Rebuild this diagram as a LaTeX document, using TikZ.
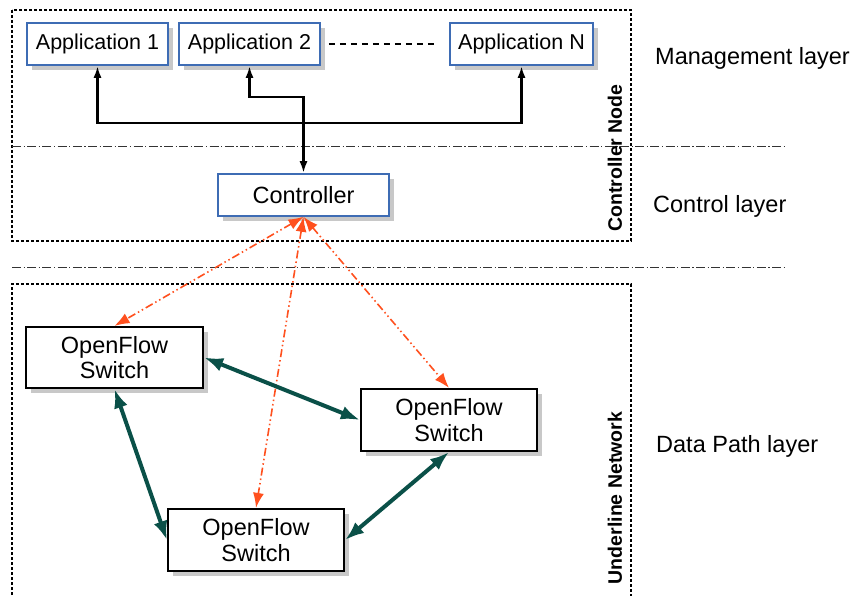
\documentclass[tikz,border=0pt]{standalone}
\usepackage{fontspec}
\setmainfont{Liberation Sans}
\usetikzlibrary{arrows.meta,shadows}
\definecolor{appblue}{RGB}{62,108,180}
\definecolor{linkgreen}{RGB}{10,80,72}
\definecolor{ctrlorange}{RGB}{255,80,30}
\definecolor{shadowgray}{RGB}{200,200,200}
\begin{document}
\begin{tikzpicture}[x=1pt,y=-1pt,
  boxshadow/.style={drop shadow={shadow xshift=5pt,shadow yshift=-5pt,fill=shadowgray,opacity=1}},
  appbox/.style={draw=appblue,line width=1.6pt,fill=white,boxshadow,
    minimum height=42pt,inner sep=0pt,font=\fontsize{21.5}{24}\selectfont},
  ctrlbox/.style={appbox,font=\fontsize{23.5}{26}\selectfont},
  switchbox/.style={draw=black,line width=2.2pt,fill=white,boxshadow,
    minimum width=176pt,minimum height=62pt,inner sep=0pt,align=center,
    font=\fontsize{23.5}{25.5}\selectfont},
  framebox/.style={line width=2pt,dash pattern=on 3pt off 2pt},
  separator/.style={line width=0.9pt,black!80,dash pattern=on 9pt off 2.5pt on 1.2pt off 2.5pt},
  apilink/.style={line width=2.8pt,{Latex[length=12pt,width=8pt]}-{Latex[length=12pt,width=8pt]}},
  ctrllink/.style={line width=1.6pt,ctrlorange,
    dash pattern=on 8pt off 3pt on 1.5pt off 3pt on 1.5pt off 3pt,
    {Latex[length=15pt,width=11pt]}-{Latex[length=15pt,width=11pt]}},
  datalink/.style={line width=4pt,linkgreen,
    {Latex[length=19pt,width=14pt]}-{Latex[length=19pt,width=14pt]}},
  layerlabel/.style={anchor=base west,inner sep=0pt,font=\fontsize{23.5}{26}\selectfont},
  sidelabel/.style={rotate=90,inner sep=0pt,font=\fontsize{19.5}{22}\selectfont\bfseries}
]
\useasboundingbox (0,0) rectangle (852,596);

% enclosing frames and layer separators
\draw[framebox] (12,10) rectangle (631,241);
\draw[framebox] (12,600) -- (12,284) -- (631,284) -- (631,600);
\draw[separator] (12,146) -- (785,146);
\draw[separator] (12,267) -- (785,267);

% management layer
\node[appbox,minimum width=141pt] (app1) at (97.5,44) {Application 1};
\node[appbox,minimum width=141pt] (app2) at (249.5,44) {Application 2};
\node[appbox,minimum width=143pt] (appN) at (521.5,44) {Application N};
\draw[line width=2.8pt,dash pattern=on 6pt off 5pt]
  ([xshift=8pt]app2.east) -- ([xshift=-12pt]appN.west);

% control layer
\node[ctrlbox,minimum width=171pt] (ctrl) at (303.5,195) {Controller};

% data path layer
\node[switchbox,minimum width=177pt,minimum height=61pt] (sw1) at (114.5,357.5) {OpenFlow\\Switch};
\node[switchbox] (sw2) at (449,420) {OpenFlow\\Switch};
\node[switchbox] (sw3) at (256,540) {OpenFlow\\Switch};

% northbound connections
\coordinate (bus) at (303.5,123);
\coordinate (tap) at (303.5,97);
\draw[apilink] (app1.south) |- (bus) -| (appN.south);
\draw[apilink] (app2.south) |- (tap) -- (ctrl.north);

% control channels
\draw[ctrllink] (ctrl.south) -- (sw1.north);
\draw[ctrllink] (ctrl.south) -- (sw2.north);
\draw[ctrllink] (ctrl.south) -- (sw3.north);

% switch-to-switch links
\draw[datalink] (sw1.east) -- (sw2.west);
\draw[datalink] (sw1.south) -- (sw3.west);
\draw[datalink] (sw2.south) -- (sw3.east);

% labels
\node[sidelabel] (nodelbl) at (615,158) {Controller Node};
\node[sidelabel] (netlbl) at (615,498) {Underline Network};
\node[layerlabel] (mgmt) at (655,65) {Management layer};
\node[layerlabel] (ctrllayer) at (653,213) {Control layer};
\node[layerlabel] (datalayer) at (656,452) {Data Path layer};
\end{tikzpicture}
\end{document}
